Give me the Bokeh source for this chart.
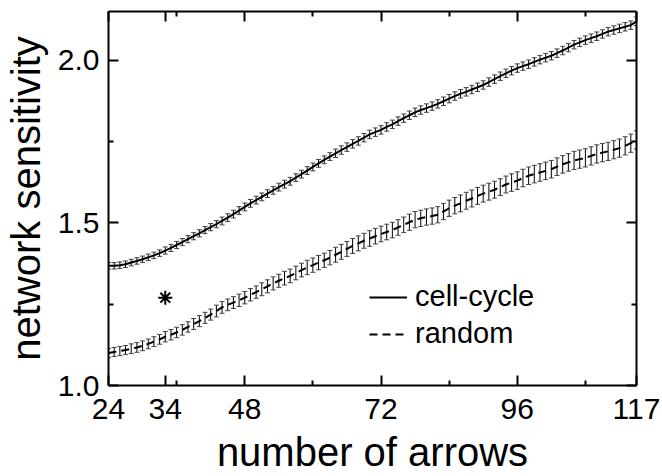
from bokeh.plotting import figure
from bokeh.models import (ColumnDataSource, Whisker, TeeHead, FixedTicker, LinearAxis,
                          Legend, LegendItem, Range1d, CustomLabelingPolicy)
from bokeh.embed import file_html
from bokeh.resources import INLINE

# ---- data ----
arrows = list(range(24, 118))
cell_cycle = [1.368, 1.368, 1.370, 1.373, 1.378, 1.383, 1.388, 1.394, 1.400, 1.407,
              1.415, 1.423, 1.432, 1.441, 1.450, 1.459, 1.468, 1.478, 1.487, 1.496,
              1.506, 1.516, 1.527, 1.538, 1.549, 1.560, 1.570, 1.580, 1.590, 1.600,
              1.610, 1.619, 1.628, 1.639, 1.650, 1.661, 1.672, 1.683, 1.694, 1.704,
              1.714, 1.724, 1.733, 1.743, 1.752, 1.762, 1.772, 1.779, 1.786, 1.795,
              1.803, 1.813, 1.822, 1.831, 1.840, 1.847, 1.853, 1.859, 1.866, 1.874,
              1.882, 1.890, 1.897, 1.903, 1.910, 1.917, 1.924, 1.933, 1.942, 1.951,
              1.960, 1.968, 1.976, 1.982, 1.988, 1.995, 2.002, 2.008, 2.014, 2.022,
              2.030, 2.039, 2.048, 2.055, 2.062, 2.068, 2.074, 2.081, 2.088, 2.093,
              2.098, 2.103, 2.108, 2.120]
cell_err = [0.010, 0.010, 0.010, 0.010, 0.010, 0.010, 0.010, 0.010, 0.010, 0.010,
            0.011, 0.011, 0.011, 0.011, 0.011, 0.011, 0.011, 0.011, 0.011, 0.011,
            0.012, 0.012, 0.012, 0.012, 0.012, 0.012, 0.012, 0.012, 0.012, 0.012,
            0.012, 0.012, 0.012, 0.012, 0.012, 0.012, 0.012, 0.012, 0.012, 0.012,
            0.013, 0.013, 0.013, 0.013, 0.013, 0.013, 0.013, 0.013, 0.013, 0.013,
            0.013, 0.013, 0.013, 0.013, 0.013, 0.013, 0.013, 0.013, 0.013, 0.013,
            0.013, 0.013, 0.013, 0.013, 0.013, 0.013, 0.013, 0.013, 0.013, 0.013,
            0.013, 0.013, 0.013, 0.013, 0.013, 0.013, 0.013, 0.013, 0.013, 0.013,
            0.013, 0.013, 0.013, 0.013, 0.013, 0.013, 0.013, 0.013, 0.013, 0.013,
            0.013, 0.013, 0.013, 0.013]
random_net = [1.100, 1.103, 1.106, 1.109, 1.113, 1.117, 1.122, 1.128, 1.135, 1.142,
              1.150, 1.156, 1.163, 1.171, 1.180, 1.189, 1.198, 1.208, 1.218, 1.229,
              1.240, 1.248, 1.255, 1.262, 1.270, 1.279, 1.287, 1.296, 1.305, 1.314,
              1.322, 1.330, 1.337, 1.346, 1.355, 1.363, 1.370, 1.378, 1.385, 1.393,
              1.402, 1.411, 1.420, 1.429, 1.437, 1.445, 1.452, 1.459, 1.466, 1.472,
              1.478, 1.486, 1.494, 1.502, 1.510, 1.514, 1.518, 1.521, 1.525, 1.535,
              1.545, 1.553, 1.560, 1.568, 1.575, 1.583, 1.590, 1.596, 1.602, 1.610,
              1.618, 1.624, 1.630, 1.638, 1.645, 1.650, 1.655, 1.660, 1.665, 1.673,
              1.680, 1.686, 1.692, 1.696, 1.700, 1.706, 1.712, 1.716, 1.720, 1.725,
              1.730, 1.737, 1.745, 1.755]
random_err = [0.014, 0.014, 0.014, 0.014, 0.015, 0.015, 0.015, 0.015, 0.015, 0.015,
              0.016, 0.016, 0.016, 0.016, 0.016, 0.017, 0.017, 0.017, 0.017, 0.018,
              0.018, 0.018, 0.018, 0.019, 0.019, 0.019, 0.019, 0.020, 0.020, 0.020,
              0.020, 0.021, 0.021, 0.021, 0.021, 0.022, 0.022, 0.022, 0.022, 0.022,
              0.023, 0.023, 0.023, 0.023, 0.023, 0.023, 0.024, 0.024, 0.024, 0.024,
              0.024, 0.024, 0.024, 0.025, 0.025, 0.025, 0.025, 0.025, 0.025, 0.025,
              0.025, 0.025, 0.026, 0.026, 0.026, 0.026, 0.026, 0.026, 0.026, 0.026,
              0.026, 0.027, 0.027, 0.027, 0.027, 0.027, 0.027, 0.027, 0.027, 0.027,
              0.027, 0.027, 0.028, 0.028, 0.028, 0.028, 0.028, 0.028, 0.028, 0.028,
              0.028, 0.028, 0.028, 0.028]
star_x = [34]
star_y = [1.27]

x_major = [24, 34, 48, 72, 96, 117]
x_minor = [36, 60, 84, 108]
y_major = [1.0, 1.5, 2.0]
y_minor = [1.25, 1.75]
x_title = "number of arrows"
y_title = "network sensitivity"

FONT = "Liberation Sans"

p = figure(width=662, height=476, output_backend="svg", toolbar_location=None,
           x_range=Range1d(24, 117), y_range=Range1d(1.0, 2.15),
           min_border_left=102, min_border_right=26, min_border_top=11, min_border_bottom=89)
p.grid.visible = False
p.outline_line_color = None
p.background_fill_color = "white"
p.border_fill_color = "white"

xt = FixedTicker(ticks=x_major, minor_ticks=x_minor)
yt = FixedTicker(ticks=y_major, minor_ticks=y_minor)

def style_axis(ax, ticker, show_labels):
    ax.ticker = ticker
    ax.axis_line_width = 2
    ax.axis_line_color = "black"
    ax.major_tick_in = 10
    ax.major_tick_out = 0
    ax.minor_tick_in = 5
    ax.minor_tick_out = 0
    ax.major_tick_line_width = 2
    ax.minor_tick_line_width = 2
    ax.major_label_text_font = FONT
    if show_labels:
        ax.major_label_text_font_size = "30px"
        ax.major_label_text_color = "black"
    else:
        ax.major_label_text_font_size = "1px"
        ax.major_label_standoff = 0
        ax.major_label_policy = CustomLabelingPolicy(code="return []")

style_axis(p.xaxis[0], xt, True)
style_axis(p.yaxis[0], yt, True)
p.xaxis.major_label_standoff = 13
p.yaxis.major_label_standoff = 9
p.yaxis.major_label_overrides = {1.0: "1.0", 1.5: "1.5", 2.0: "2.0"}

p.xaxis.axis_label = x_title
p.yaxis.axis_label = y_title
for ax in (p.xaxis[0], p.yaxis[0]):
    ax.axis_label_text_font = FONT
    ax.axis_label_text_font_size = "40px"
    ax.axis_label_text_font_style = "normal"
    ax.axis_label_text_color = "black"
p.xaxis.axis_label_standoff = 8
p.yaxis.axis_label_standoff = 7

top = LinearAxis()
right = LinearAxis()
style_axis(top, xt, False)
style_axis(right, yt, False)
p.add_layout(top, "above")
p.add_layout(right, "right")

# error bars
src_c = ColumnDataSource(dict(x=arrows, y=cell_cycle,
                              lo=[v - e for v, e in zip(cell_cycle, cell_err)],
                              hi=[v + e for v, e in zip(cell_cycle, cell_err)]))
src_r = ColumnDataSource(dict(x=arrows, y=random_net,
                              lo=[v - e for v, e in zip(random_net, random_err)],
                              hi=[v + e for v, e in zip(random_net, random_err)]))
for s in (src_c, src_r):
    w = Whisker(base="x", lower="lo", upper="hi", source=s, line_color="black", line_width=1,
                upper_head=TeeHead(size=5, line_color="#444444", line_width=1),
                lower_head=TeeHead(size=5, line_color="#444444", line_width=1))
    p.add_layout(w)

r1 = p.line("x", "y", source=src_c, line_color="black", line_width=2)
r2 = p.line("x", "y", source=src_r, line_color="black", line_width=2, line_dash="8 5")

p.scatter(star_x, star_y, marker="asterisk", size=14, line_color="black", line_width=2)

legend = Legend(items=[LegendItem(label="cell-cycle", renderers=[r1]),
                       LegendItem(label="random", renderers=[r2])],
                location=(261, 35), orientation="vertical",
                label_text_font=FONT, label_text_font_size="29px", label_text_color="black",
                glyph_width=38, glyph_height=20, label_height=20, label_standoff=8,
                spacing=4, padding=0, margin=0,
                border_line_color=None, background_fill_alpha=0)
p.add_layout(legend)

open("out.html", "w").write(file_html(p, INLINE))
